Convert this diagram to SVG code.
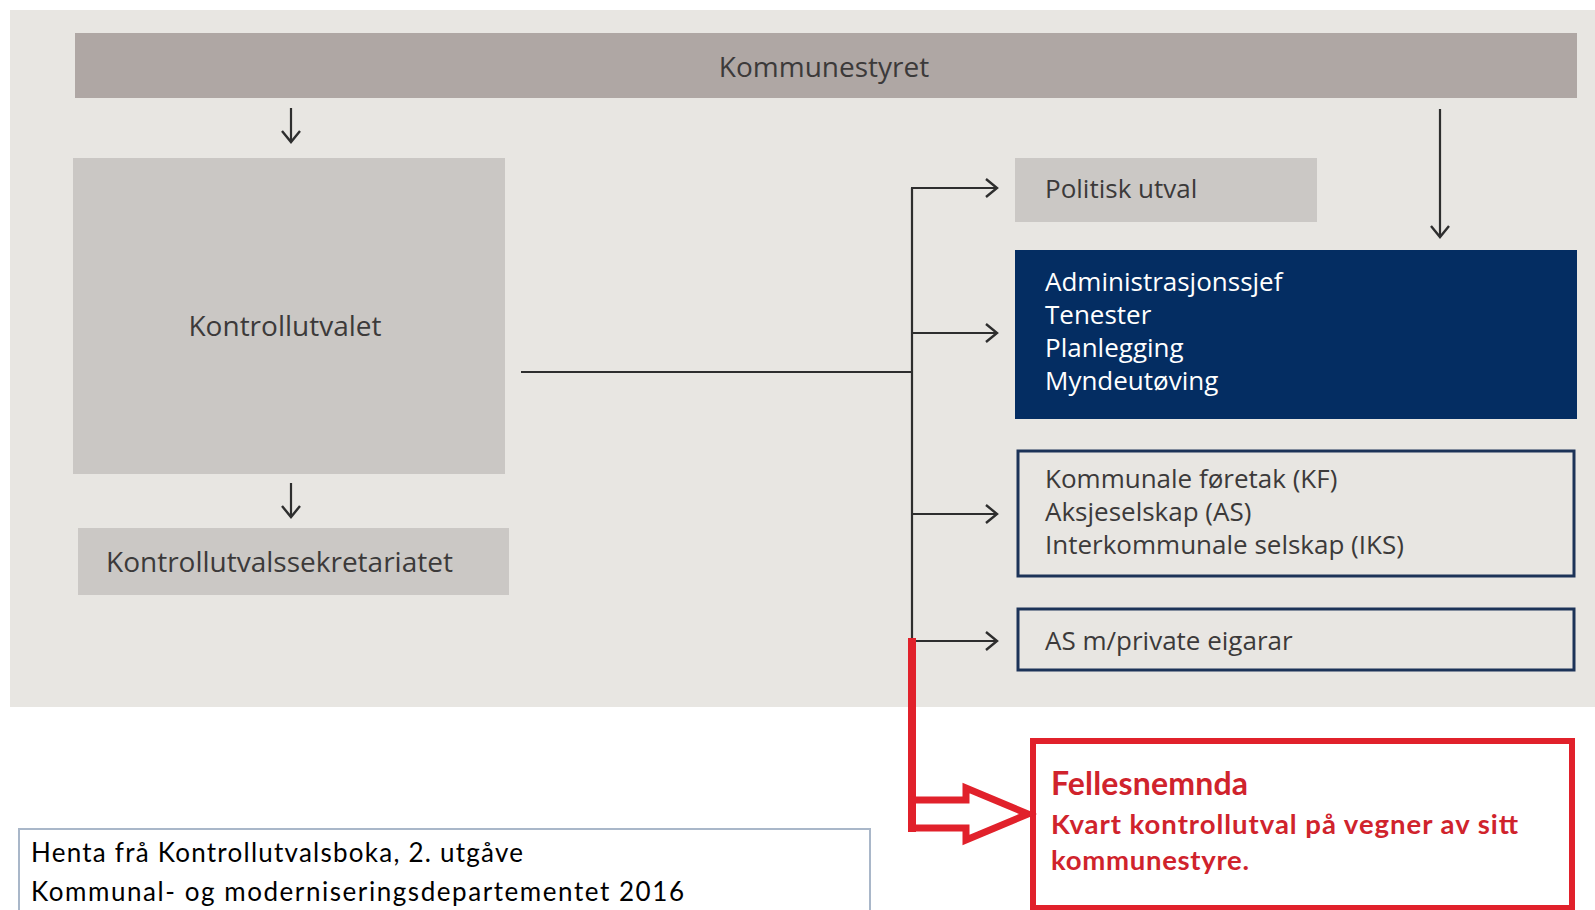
<svg xmlns="http://www.w3.org/2000/svg" width="1595" height="910" viewBox="0 0 1595 910">
<defs>
<style>
.t{font-family:"Open Sans","Noto Sans",sans-serif;fill:#3c3a3a;}
.big{font-size:28px;}
.mid{font-size:26px;}
.w{fill:#ffffff;}
.conn{stroke:#2e2e2e;stroke-width:2.2;fill:none;}
.red{stroke:#e1212b;fill:none;stroke-linejoin:miter;}
.cal{font-family:Lato,"Noto Sans",sans-serif;}
.rt{fill:#d0232c;font-weight:bold;}
</style>
<marker id="chev" markerUnits="userSpaceOnUse" markerWidth="30" markerHeight="30" viewBox="-15 -15 30 30" refX="0" refY="0" orient="auto">
<path d="M-11,-9 L0,0 L-11,9" fill="none" stroke="#2e2e2e" stroke-width="2.4"/>
</marker>
</defs>
<rect x="0" y="0" width="1595" height="910" fill="#ffffff"/>
<rect x="10" y="10" width="1585" height="697" fill="#e8e6e2"/>

<g id="kommunestyret">
<rect x="75" y="33" width="1502" height="65" fill="#afa7a4"/>
<text class="t big" x="824" y="77" text-anchor="middle">Kommunestyret</text>
</g>
<g id="kontrollutvalet">
<rect x="73" y="158" width="432" height="316" fill="#cac7c4"/>
<text class="t big" x="285" y="336" text-anchor="middle">Kontrollutvalet</text>
</g>
<g id="sekretariatet">
<rect x="78" y="528" width="431" height="67" fill="#cbc8c5"/>
<text class="t big" x="106" y="572">Kontrollutvalssekretariatet</text>
</g>
<g id="politisk">
<rect x="1015" y="158" width="302" height="64" fill="#cbc8c5"/>
<text class="t mid" x="1045" y="198">Politisk utval</text>
</g>
<g id="admin">
<rect x="1015" y="250" width="562" height="169" fill="#042d62"/>
<text class="t mid w" x="1045" y="291">Administrasjonssjef</text>
<text class="t mid w" x="1045" y="324">Tenester</text>
<text class="t mid w" x="1045" y="357">Planlegging</text>
<text class="t mid w" x="1045" y="390">Myndeutøving</text>
</g>
<g id="selskap">
<rect x="1018" y="451" width="556" height="125" fill="#e8e6e2" stroke="#1c3358" stroke-width="3"/>
<text class="t mid" x="1045" y="488">Kommunale føretak (KF)</text>
<text class="t mid" x="1045" y="521">Aksjeselskap (AS)</text>
<text class="t mid" x="1045" y="554">Interkommunale selskap (IKS)</text>
</g>
<g id="privat">
<rect x="1018" y="609" width="556" height="61" fill="#e8e6e2" stroke="#1c3358" stroke-width="3"/>
<text class="t mid" x="1045" y="650">AS m/private eigarar</text>
</g>
<g id="fellesnemnda">
<rect x="1033" y="741" width="539" height="167" fill="#ffffff" stroke="#e1212b" stroke-width="6"/>
<text class="cal rt" x="1051" y="795" font-size="32" textLength="197">Fellesnemnda</text>
<text class="cal rt" x="1051" y="834" font-size="27.5" textLength="467">Kvart kontrollutval på vegner av sitt</text>
<text class="cal rt" x="1051" y="870" font-size="27.5" textLength="198">kommunestyre.</text>
</g>
<g id="kjelde">
<rect x="19" y="829" width="851" height="100" fill="#ffffff" stroke="#a9b7c9" stroke-width="2"/>
<text class="cal" x="31" y="862" font-size="26" fill="#000000" textLength="492">Henta frå Kontrollutvalsboka, 2. utgåve</text>
<text class="cal" x="31" y="901" font-size="26" fill="#000000" textLength="653">Kommunal- og moderniseringsdepartementet 2016</text>
</g>

<g id="connectors">
<line class="conn" x1="291" y1="108" x2="291" y2="142" marker-end="url(#chev)"/>
<line class="conn" x1="291" y1="483" x2="291" y2="517" marker-end="url(#chev)"/>
<line class="conn" x1="1440" y1="109" x2="1440" y2="237" marker-end="url(#chev)"/>
<line class="conn" x1="521" y1="372" x2="912" y2="372"/>
<line class="conn" x1="912" y1="188" x2="912" y2="641"/>
<line class="conn" x1="911" y1="188" x2="997" y2="188" marker-end="url(#chev)"/>
<line class="conn" x1="912" y1="333" x2="997" y2="333" marker-end="url(#chev)"/>
<line class="conn" x1="912" y1="514" x2="997" y2="514" marker-end="url(#chev)"/>
<line class="conn" x1="912" y1="641" x2="997" y2="641" marker-end="url(#chev)"/>
<path class="red" stroke-width="8" d="M912,638 V832"/>
<polygon class="red" stroke-width="7" points="912,800 966,800 966,788 1028,814 966,840 966,828 912,828"/>
</g>
</svg>
